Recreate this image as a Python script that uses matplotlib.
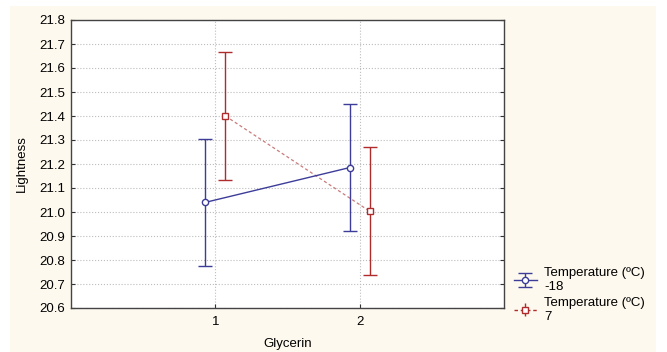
import matplotlib
matplotlib.use('Agg')
import matplotlib.pyplot as plt
from matplotlib.patches import Rectangle

plt.rcParams['font.family'] = ['Liberation Sans', 'DejaVu Sans']

# Lightness vs glycerin level, one series per temperature
glycerin = [1, 2]
temp_labels = ['Temperature (ºC)\n-18', 'Temperature (ºC)\n7']
means_m18 = [21.04, 21.185]
err_m18 = [0.265, 0.265]
means_7 = [21.40, 21.003]
err_7 = [0.265, 0.267]

y_ticks = [20.6, 20.7, 20.8, 20.9, 21.0, 21.1, 21.2, 21.3, 21.4, 21.5, 21.6, 21.7, 21.8]

fig = plt.figure(figsize=(6.67, 3.52), dpi=100, facecolor='white')
fig.patches.append(Rectangle((10 / 667, 0), 646 / 667, 346 / 352,
                             transform=fig.transFigure, facecolor='#fdf9ee',
                             edgecolor='none', zorder=-10))
ax = fig.add_axes([71 / 667, 44 / 352, 433 / 667, 288 / 352])
ax.set_facecolor('white')

blue = '#3d3d99'
red = '#b02c2c'
shift = 0.07

ax.errorbar([g - shift for g in glycerin], means_m18, yerr=err_m18,
            color=blue, lw=1.0, capsize=5, capthick=1.0,
            marker='o', ms=4.5, mfc='white', mec=blue, mew=1.0,
            label=temp_labels[0], zorder=3)
ax.errorbar([g + shift for g in glycerin], means_7, yerr=err_7,
            color=red, lw=1.0, capsize=5, capthick=1.0,
            marker='s', ms=5, mfc='white', mec=red, mew=1.0,
            ls='none', zorder=3)
# connecting line of the 7 ºC series is a lighter, finer dash
ax.plot([g + shift for g in glycerin], means_7, color='#c97a7a', lw=0.9,
        ls=(0, (2.5, 2)), zorder=2)
ax.errorbar([], [], yerr=[], color=red, lw=1.0, capsize=5, capthick=1.0,
            marker='s', ms=5, mfc='white', mec=red, mew=1.0,
            ls=(0, (2.5, 2)), label=temp_labels[1])

ax.set_xlim(0, 3)
ax.set_ylim(20.6, 21.8)
ax.set_xticks(glycerin)
ax.set_yticks(y_ticks)
ax.set_yticklabels(['%.1f' % v for v in y_ticks])
ax.grid(True, color='#bdbdbd', ls=':', lw=0.8)
ax.set_axisbelow(True)
ax.tick_params(axis='both', labelsize=9.5, length=3, color='#333333')
ax.tick_params(axis='y', right=True, direction='in', pad=4)
ax.tick_params(axis='x', direction='in', pad=6)
for s in ax.spines.values():
    s.set_color('#444444')
    s.set_linewidth(1.0)

ax.set_xlabel('Glycerin', fontsize=9.5, labelpad=7)
ax.set_ylabel('Lightness', fontsize=9.5, labelpad=8)

ax.legend(loc='upper left', bbox_to_anchor=(1.01, 0.16), frameon=False,
          fontsize=9.5, handlelength=1.8, handletextpad=0.5,
          labelspacing=0.3, borderaxespad=0)

fig.savefig('out.png', dpi=100, facecolor=fig.get_facecolor())
